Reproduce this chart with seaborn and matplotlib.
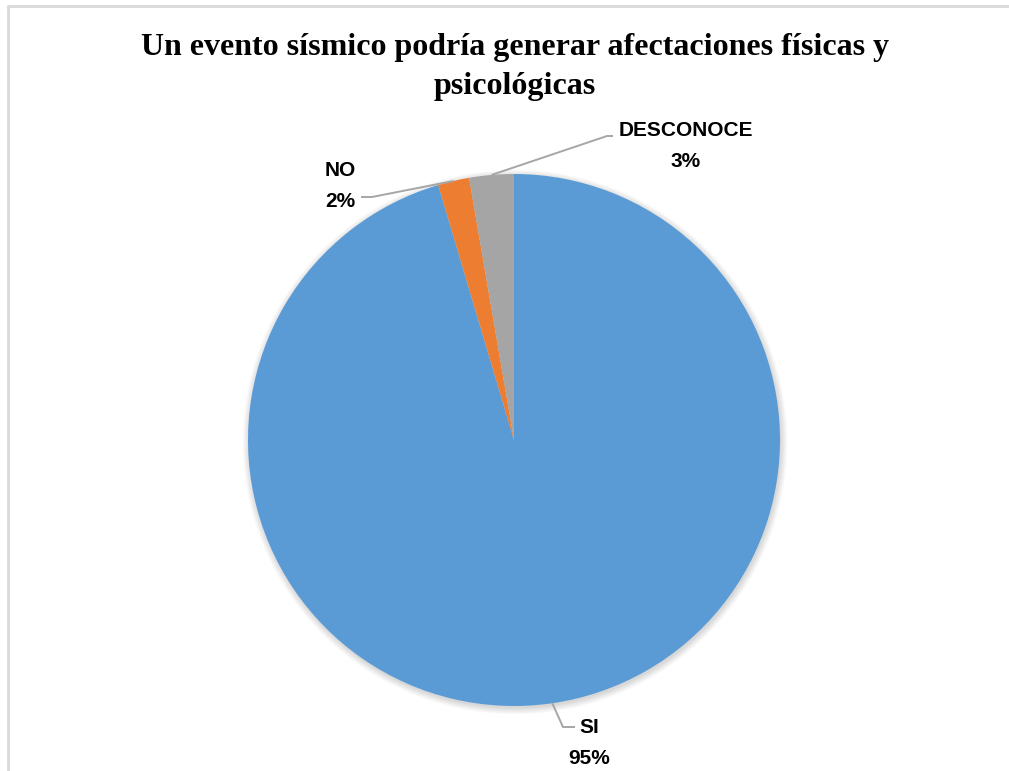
import numpy as np
import matplotlib.pyplot as plt
import seaborn as sns

# data
categories = ["SI", "NO", "DESCONOCE"]
values = [95.4, 1.9, 2.7]
colors = ["#5B9BD5", "#ED7D31", "#A5A5A5"]
title = "Un evento sísmico podría generar afectaciones físicas y\npsicológicas"

sns.set_theme(style="white")
plt.rcParams["font.family"] = ["Liberation Sans", "DejaVu Sans"]

W, H = 1009, 771
fig = plt.figure(figsize=(W / 100, H / 100), dpi=100)
ax = fig.add_axes([0, 0, 1, 1])

cx, cy, r = 514, H - 440, 266

# soft shadow behind the pie
for k in range(8):
    ax.add_patch(plt.Circle((cx + 1, cy - 2), r + k * 0.9, color="black",
                            alpha=0.018, lw=0, zorder=1))

wedges, _ = ax.pie(values, colors=colors, startangle=90, counterclock=False,
                   center=(cx, cy), radius=r, frame=True,
                   wedgeprops=dict(linewidth=0, zorder=2))
ax.set_xlim(0, W)
ax.set_ylim(0, H)
ax.set_aspect("equal")
ax.axis("off")

# label layout (pixel coords from top): elbow, end of stub, text centre
layout = {
    "SI": ((563, 727), (575, 727), (589, 743)),
    "NO": ((372, 197), (361, 197), (340, 186)),
    "DESCONOCE": ((607, 136), (613, 136), (686, 146)),
}

for w, cat, v in zip(wedges, categories, values):
    ang = np.deg2rad((w.theta1 + w.theta2) / 2)
    sx, sy = cx + r * np.cos(ang), cy + r * np.sin(ang)
    (ex, ey), (hx, hy), (tx, ty) = layout[cat]
    ax.plot([sx, ex, hx], [sy, H - ey, H - hy], color="#A6A6A6", lw=1.4,
            zorder=3, solid_capstyle="butt")
    ax.text(tx, H - ty, f"{cat}\n{round(v)}%", ha="center", va="center",
            fontsize=15, fontweight="bold", color="black", linespacing=1.85,
            zorder=4)

ax.text(515, H - 67, title, ha="center", va="center",
        fontsize=23, fontweight="bold", family="Liberation Serif",
        linespacing=1.42, color="black")

# chart frame edges (top and left visible)
ax.plot([8, W], [H - 5.5, H - 5.5], color="#D9D9D9", lw=2, zorder=0,
        clip_on=False)
ax.plot([8, 8], [H - 5.5, 0], color="#D9D9D9", lw=2, zorder=0,
        clip_on=False)

plt.savefig("out.png", dpi=100)
